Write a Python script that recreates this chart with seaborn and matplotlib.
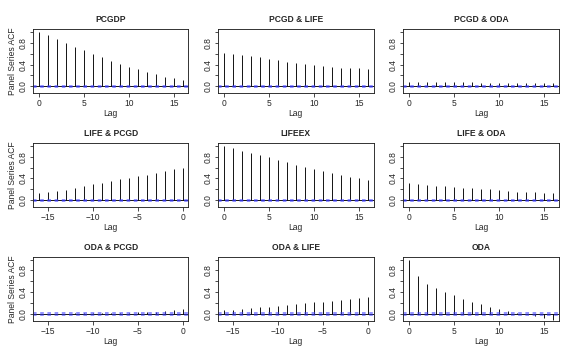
import seaborn as sns
import matplotlib.pyplot as plt
import numpy as np

sns.set_style("ticks")
plt.rcParams["font.family"] = ["Liberation Sans", "DejaVu Sans"]

titles = ["PCGDP", "PCGD & LIFE", "PCGD & ODA",
          "LIFE & PCGD", "LIFEEX", "LIFE & ODA",
          "ODA & PCGD", "ODA & LIFE", "ODA"]

pos_lags = list(range(0, 17))
neg_lags = list(range(-16, 1))

pcgdp = [1.0, 0.95, 0.87, 0.80, 0.73, 0.66, 0.59, 0.53, 0.47, 0.41, 0.355, 0.31, 0.265, 0.22, 0.18, 0.15, 0.12]
pcgd_life = [0.61, 0.59, 0.57, 0.55, 0.53, 0.50, 0.475, 0.455, 0.43, 0.41, 0.39, 0.37, 0.355, 0.34, 0.33, 0.33, 0.325]
pcgd_oda = [0.08, 0.08, 0.08, 0.08, 0.08, 0.08, 0.08, 0.08, 0.07, 0.07, 0.07, 0.07, 0.07, 0.06, 0.06, 0.06, 0.06]
life_pcgd = [0.13, 0.145, 0.17, 0.195, 0.225, 0.255, 0.29, 0.315, 0.345, 0.38, 0.41, 0.44, 0.47, 0.50, 0.54, 0.575, 0.60]
lifeex = [1.0, 0.96, 0.91, 0.87, 0.83, 0.79, 0.745, 0.70, 0.655, 0.615, 0.575, 0.54, 0.50, 0.47, 0.43, 0.40, 0.37]
life_oda = [0.315, 0.30, 0.28, 0.265, 0.255, 0.24, 0.23, 0.22, 0.205, 0.20, 0.18, 0.17, 0.155, 0.15, 0.145, 0.135, 0.135]
oda_pcgd = [0.0, 0.0, 0.005, 0.005, 0.01, 0.01, 0.01, 0.015, 0.015, 0.02, 0.025, 0.03, 0.035, 0.045, 0.055, 0.065, 0.09]
oda_life = [0.065, 0.07, 0.085, 0.11, 0.12, 0.13, 0.145, 0.16, 0.18, 0.195, 0.215, 0.225, 0.245, 0.26, 0.28, 0.30, 0.31]
oda = [1.0, 0.70, 0.56, 0.48, 0.40, 0.345, 0.285, 0.23, 0.18, 0.135, 0.09, 0.055, 0.025, 0.0, -0.035, -0.07, -0.11]

series = [pcgdp, pcgd_life, pcgd_oda, life_pcgd, lifeex, life_oda, oda_pcgd, oda_life, oda]
lags = [pos_lags, pos_lags, pos_lags, neg_lags, pos_lags, pos_lags, neg_lags, neg_lags, pos_lags]
ci = 0.012

fig, axes = plt.subplots(3, 3, figsize=(8, 5), dpi=72)
fig.subplots_adjust(left=0.057, right=0.970, top=0.919, bottom=0.108, wspace=0.19, hspace=0.77)

for i, ax in enumerate(axes.flat):
    x = lags[i]
    ax.vlines(x, 0, series[i], color="black", lw=0.9)
    ax.axhline(0, color="black", lw=0.9)
    for c in (ci, -ci):
        ax.axhline(c, color="#3a3aff", lw=1.8, alpha=0.6, linestyle=(0, (2, 2)))
    if x[0] < 0:
        ax.set_xlim(-16.64, 0.64)
        ax.set_xticks([-15, -10, -5, 0])
    else:
        ax.set_xlim(-0.64, 16.64)
        ax.set_xticks([0, 5, 10, 15])
    ax.set_ylim(-0.13, 1.05)
    ax.set_yticks([0, 0.2, 0.4, 0.6, 0.8, 1.0])
    ax.set_yticklabels(["0.0", "", "0.4", "", "0.8", ""], rotation=90, va="center")
    ax.tick_params(labelsize=8.5, length=3.5, width=0.8, pad=2, color="#222222")
    for s in ax.spines.values():
        s.set_linewidth(0.9)
        s.set_color("#222222")
    ax.set_title(titles[i], fontsize=8.5, fontweight="bold", pad=7)
    ax.set_xlabel("Lag", fontsize=8.5, labelpad=1)
    if i % 3 == 0:
        ax.set_ylabel("Panel Series ACF", fontsize=8.5, labelpad=1)

plt.savefig("out.png", dpi=72)
